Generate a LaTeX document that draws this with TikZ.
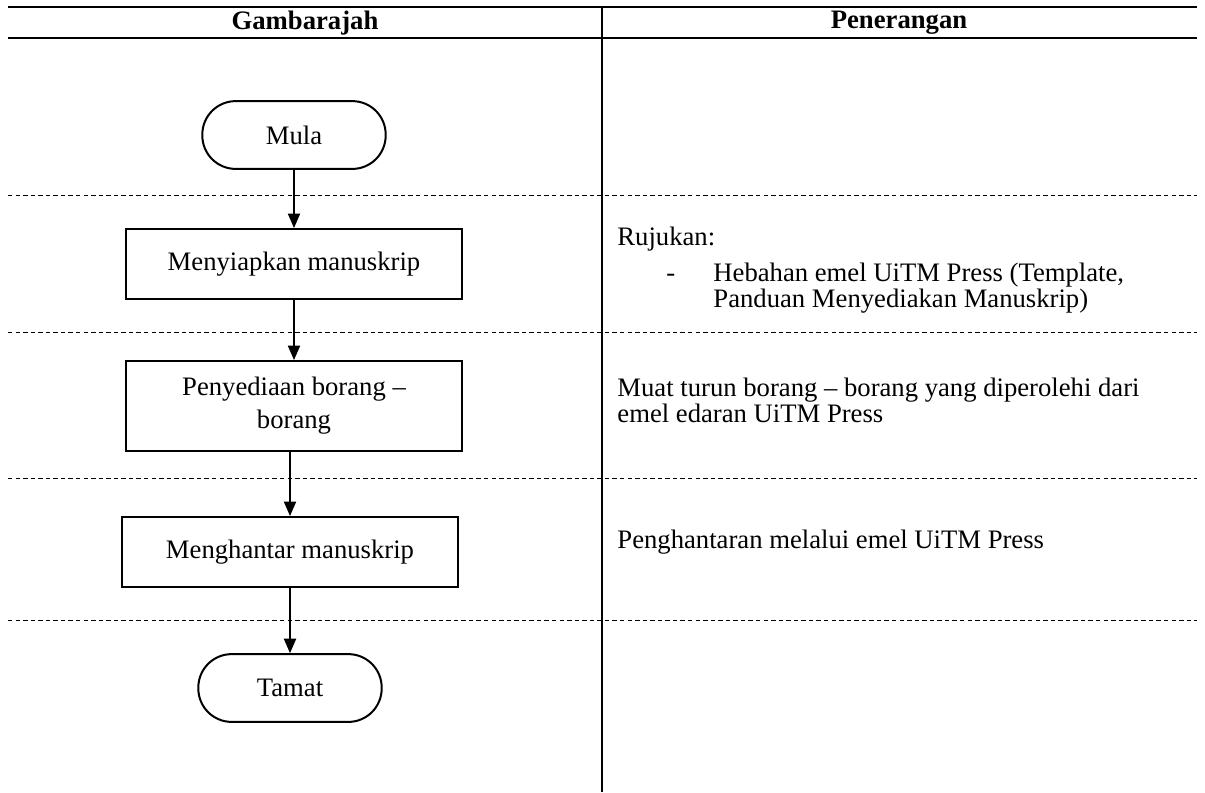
\documentclass[tikz,border=0pt]{standalone}
\usepackage{fontspec}
\setmainfont{Liberation Serif}
\usetikzlibrary{arrows.meta,positioning}
\tikzstyle{arrow} = [semithick,-{Triangle[width=5.5pt,length=6.5pt]}]
\tikzstyle{process} = [rectangle, draw, line width=0.9pt, minimum width=151.5pt, minimum height=31.5pt, text centered, inner sep=2pt]
\tikzstyle{terminal} = [rectangle, rounded corners=15pt, draw, line width=0.9pt, minimum width=82.5pt, minimum height=30.5pt, text centered]
\tikzstyle{rowline} = [line width=0.45pt, dash pattern=on 2pt off 1.4pt]
\tikzstyle{rule} = [line width=0.7pt]
\tikzstyle{note} = [anchor=base west, inner sep=0pt]
\tikzstyle{head} = [font=\fontsize{12}{14}\selectfont\bfseries]

\begin{document}
\begin{tikzpicture}[x=0.45pt, y=-0.45pt, font=\fontsize{12}{14}\selectfont]
\useasboundingbox (0,0) rectangle (1205,792);
% Table head
\draw[rule] (8,7) -- (1197,7);
\draw[rule] (8,38) -- (1197,38);
\draw[line width=0.6pt] (602,7) -- (602,792);
\node[head] (gambar) at (305,23) {Gambarajah};
\node[head] (terang) at (899,23) {Penerangan};

% Rows
\foreach \y in {195,332,478,620}
  \draw[rowline] (8,\y) -- (1197,\y);

% Steps
\node[terminal] (mula) at (294,135) {Mula};
\node[process] (siap) at (294,264) {Menyiapkan manuskrip};
\node[process, minimum height=40.5pt, align=center, font=\fontsize{12}{14.8}\selectfont] (borang) at (294,406) {Penyediaan borang --\\borang};
\node[process] (hantar) at (290,552) {Menghantar manuskrip};
\node[terminal] (tamat) at (290,688) {Tamat};

\draw[arrow] (mula) -- (siap);
\draw[arrow] (siap) -- (borang);
\draw[arrow] (hantar.north |- borang.south) -- (hantar);
\draw[arrow] (hantar) -- (tamat);

% Notes
\node[note] (rujuk) at (617,245) {Rujukan:};
\node[note] (sengkang) at (666,281) {-};
\node[note] (hebah) at (713,281) {Hebahan emel UiTM Press (Template,};
\node[note] (panduan) at (713,307) {Panduan Menyediakan Manuskrip)};
\node[note] (muat) at (617,396) {Muat turun borang -- borang yang diperolehi dari};
\node[note] (edaran) at (617,422) {emel edaran UiTM Press};
\node[note] (hantarnota) at (617,548) {Penghantaran melalui emel UiTM Press};
\end{tikzpicture}
\end{document}
